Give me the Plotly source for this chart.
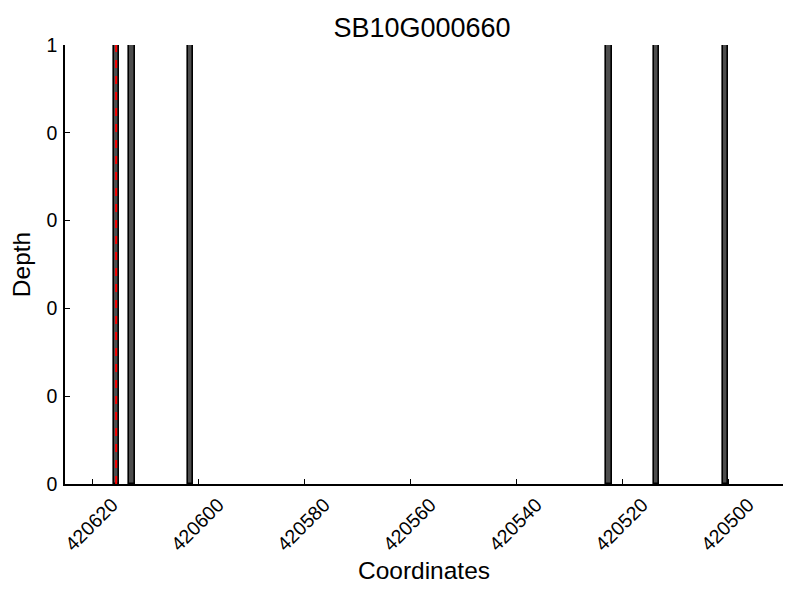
import plotly.graph_objects as go

title = "SB10G000660"
positions = [420615, 420612, 420601, 420522, 420513, 420500]
depths = [1, 1, 1, 1, 1, 1]
marker_pos = 420615.5
x_ticks = [420620, 420600, 420580, 420560, 420540, 420520, 420500]
y_ticks = [0, 0.2, 0.4, 0.6, 0.8, 1.0]
y_tick_labels = ["0", "0", "0", "0", "0", "1"]

W, H = 792, 592  # page body has an 8px margin

fig = go.Figure()
fig.add_trace(go.Bar(
    x=positions, y=depths, width=1, offset=0,
    marker=dict(color="#4d4d4d", line=dict(color="black", width=1.6)),
    showlegend=False,
))
fig.add_shape(type="line", x0=marker_pos, x1=marker_pos, y0=0, y1=1,
              xref="x", yref="y", line=dict(color="red", width=2, dash="8px,8px"))

fig.update_layout(
    width=W, height=H,
    margin=dict(l=57, r=17, t=37, b=116, autoexpand=False),
    paper_bgcolor="white", plot_bgcolor="white",
    font=dict(family="Liberation Sans, Arial, sans-serif", color="black", size=19),
    title=dict(text=title, x=414 / W, xanchor="center", y=1 - 20 / H, yanchor="middle",
               font=dict(size=27)),
    bargap=0,
)
fig.update_xaxes(
    range=[420625.15, 420489.7],
    tickvals=x_ticks, ticktext=[str(v) for v in x_ticks],
    tickangle=-45, ticks="inside", ticklen=5, tickcolor="black",
    showline=True, linecolor="black", linewidth=1.5, mirror=False,
    showgrid=False, zeroline=False, automargin=False,
    ticklabelshift=-20, ticklabelstandoff=0,
    title=dict(text="Coordinates", font=dict(size=24.5), standoff=8),
    tickfont=dict(size=19.5),
)
fig.update_yaxes(
    range=[0, 1],
    tickvals=y_ticks, ticktext=y_tick_labels,
    ticks="inside", ticklen=5, tickcolor="black",
    showline=True, linecolor="black", linewidth=1.5, mirror=False,
    showgrid=False, zeroline=False, automargin=False,
    ticklabelstandoff=2,
    title=dict(text="Depth", font=dict(size=24.5), standoff=12),
    tickfont=dict(size=19.5),
)
fig.write_html("out.html")
